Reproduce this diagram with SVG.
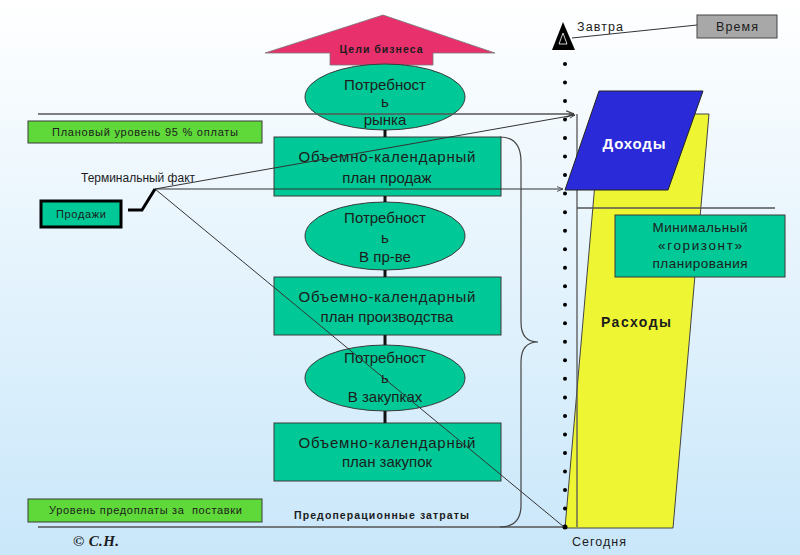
<svg xmlns="http://www.w3.org/2000/svg" width="800" height="555" viewBox="0 0 800 555">
<defs>
<linearGradient id="bg" x1="0" y1="0" x2="0" y2="1">
<stop offset="0" stop-color="#ffffff"/>
<stop offset="1" stop-color="#c9e7fa"/>
</linearGradient>
<marker id="ah" viewBox="0 0 10 10" refX="10" refY="5" markerWidth="6" markerHeight="6" orient="auto">
<path d="M0,1 L10,5 L0,9" fill="none" stroke="#444" stroke-width="1.5"/>
</marker>
<style>
text{font-family:"Liberation Sans",Arial,sans-serif;fill:#1c1c1c}
.big{font-size:15px}
.sm{font-size:11px}
.md{font-size:12.5px}
.gz{font-size:13.5px}
.teal{fill:#00c896;stroke:#3a3a3a;stroke-width:1}
.lime{fill:#5fd83a;stroke:#3a3a3a;stroke-width:1}
.thin{stroke:#333;stroke-width:1;fill:none}
.grey{stroke:#555;stroke-width:1.3;fill:none}
.stem{stroke:#111;stroke-width:3}
.dot{fill:#000}
</style>
</defs>
<rect width="800" height="555" fill="url(#bg)"/>

<!-- yellow expenses -->
<g id="rashody">
<polygon points="601,114 709,114 673,528 565,528" fill="#eef533" stroke="#444" stroke-width="1"/>
<text x="601" y="327" font-size="14" font-weight="bold" textLength="70" lengthAdjust="spacing">Расходы</text>
</g>

<!-- dotted time axis -->
<g id="axis">
<line class="grey" x1="577" y1="114" x2="577" y2="527"/>
<line class="grey" x1="577" y1="208" x2="775" y2="208"/>
<line class="grey" x1="38" y1="527" x2="567" y2="527"/>
<circle class="dot" cx="565" cy="64" r="2"/><circle class="dot" cx="565" cy="82.5" r="2"/><circle class="dot" cx="565" cy="101" r="2"/><circle class="dot" cx="565" cy="119.6" r="2"/><circle class="dot" cx="565" cy="138.1" r="2"/><circle class="dot" cx="565" cy="156.6" r="2"/><circle class="dot" cx="565" cy="175.1" r="2"/><circle class="dot" cx="565" cy="193.6" r="2"/><circle class="dot" cx="565" cy="212.2" r="2"/><circle class="dot" cx="565" cy="230.7" r="2"/><circle class="dot" cx="565" cy="249.2" r="2"/><circle class="dot" cx="565" cy="267.7" r="2"/><circle class="dot" cx="565" cy="286.2" r="2"/><circle class="dot" cx="565" cy="304.8" r="2"/><circle class="dot" cx="565" cy="323.3" r="2"/><circle class="dot" cx="565" cy="341.8" r="2"/><circle class="dot" cx="565" cy="360.3" r="2"/><circle class="dot" cx="565" cy="378.8" r="2"/><circle class="dot" cx="565" cy="397.4" r="2"/><circle class="dot" cx="565" cy="415.9" r="2"/><circle class="dot" cx="565" cy="434.4" r="2"/><circle class="dot" cx="565" cy="452.9" r="2"/><circle class="dot" cx="565" cy="471.4" r="2"/><circle class="dot" cx="565" cy="490" r="2"/><circle class="dot" cx="565" cy="508.5" r="2"/><circle class="dot" cx="565" cy="527" r="2.5"/>
<polygon points="563,22 575,50 552,50" fill="#000"/>
<polygon points="563,33 567,44 559,44" fill="none" stroke="#fff" stroke-width="0.8"/>
<text x="577" y="31" class="md" textLength="46" lengthAdjust="spacing">Завтра</text>
<text x="572" y="546" class="md" textLength="54" lengthAdjust="spacing">Сегодня</text>
</g>

<!-- Доходы -->
<g id="dohody">
<polygon points="599,91 703,91 668,190 565,190" fill="#2a2ad8" stroke="#222" stroke-width="1"/>
<text x="634" y="149" font-size="15" font-weight="bold" style="fill:#fff" text-anchor="middle" textLength="63" lengthAdjust="spacing">Доходы</text>
</g>

<g id="celi">
<polygon points="383,15 495,53 433,53 433,65 330,65 330,53 265,53" fill="#e8306c" stroke="#777" stroke-width="0.8"/>
<text x="381" y="53" font-size="10.5" font-weight="bold" text-anchor="middle" textLength="83" lengthAdjust="spacing">Цели бизнеса</text>
</g>

<g id="potr1">
<ellipse cx="385" cy="97" rx="80" ry="33" class="teal"/>
<text x="385" y="90" class="big" text-anchor="middle">Потребност</text>
<text x="385" y="107" class="big" text-anchor="middle">ь</text>
<text x="385" y="125" class="big" text-anchor="middle">рынка</text>
</g>

<g id="plan1">
<rect x="274" y="137" width="227" height="59" class="teal"/>
<text x="387" y="162" class="big" text-anchor="middle" textLength="177" lengthAdjust="spacing">Объемно-календарный</text>
<text x="387" y="183" class="big" text-anchor="middle">план продаж</text>
</g>

<g id="potr2">
<ellipse cx="385" cy="236" rx="80" ry="34" class="teal"/>
<text x="385" y="223" class="big" text-anchor="middle">Потребност</text>
<text x="385" y="243" class="big" text-anchor="middle">ь</text>
<text x="385" y="262" class="big" text-anchor="middle">В пр-ве</text>
</g>

<g id="plan2">
<rect x="274" y="277" width="227" height="58" class="teal"/>
<text x="387" y="302" class="big" text-anchor="middle" textLength="177" lengthAdjust="spacing">Объемно-календарный</text>
<text x="387" y="322" class="big" text-anchor="middle">план производства</text>
</g>

<g id="potr3">
<ellipse cx="385" cy="378" rx="80" ry="33" class="teal"/>
<text x="385" y="363" class="big" text-anchor="middle">Потребност</text>
<text x="385" y="383" class="big" text-anchor="middle">ь</text>
<text x="385" y="402" class="big" text-anchor="middle">В закупках</text>
</g>

<g id="plan3">
<rect x="274" y="423" width="227" height="58" class="teal"/>
<text x="387" y="448" class="big" text-anchor="middle" textLength="177" lengthAdjust="spacing">Объемно-календарный</text>
<text x="387" y="467" class="big" text-anchor="middle">план закупок</text>
</g>

<g id="plan95">
<rect x="28" y="121" width="234" height="22" class="lime"/>
<text x="52" y="136" class="sm" textLength="186" lengthAdjust="spacing">Плановый уровень 95 % оплаты</text>
</g>

<g id="terminal">
<text x="81" y="182" style="font-size:12px" textLength="114" lengthAdjust="spacing">Терминальный факт</text>
</g>

<g id="prodazhi">
<rect x="41" y="201" width="80" height="26" fill="#00c896" stroke="#000" stroke-width="3"/>
<text x="56" y="218" class="sm" textLength="50" lengthAdjust="spacing">Продажи</text>
</g>

<g id="predoplata">
<rect x="28" y="499" width="234" height="23" class="lime"/>
<text x="49" y="514" class="sm" xml:space="preserve" textLength="193" lengthAdjust="spacing">Уровень предоплаты за  поставки</text>
</g>

<g id="predoper">
<text x="294" y="519" font-size="10.5" font-weight="bold" textLength="175" lengthAdjust="spacing">Предоперационные затраты</text>
</g>

<g id="gorizont">
<rect x="615" y="215" width="170" height="62" class="teal"/>
<text x="700" y="232" class="gz" text-anchor="middle" textLength="95" lengthAdjust="spacing">Минимальный</text>
<text x="700" y="250" class="gz" text-anchor="middle" textLength="84" lengthAdjust="spacing">«горизонт»</text>
<text x="700" y="268" class="gz" text-anchor="middle" textLength="95" lengthAdjust="spacing">планирования</text>
</g>

<g id="vremya">
<rect x="697" y="15" width="80" height="23" fill="#a8a8a8" stroke="#444" stroke-width="1"/>
<text x="737" y="31" class="md" text-anchor="middle" textLength="42" lengthAdjust="spacing">Время</text>
</g>

<g id="copyright">
<text x="73" y="546" style="font-family:'Liberation Serif','Times New Roman',serif;font-size:15px;font-weight:bold;font-style:italic" textLength="46" lengthAdjust="spacing">© С.Н.</text>
</g>

<g id="connectors">
<line class="grey" x1="38" y1="114" x2="574" y2="114" marker-end="url(#ah)"/>
<line class="thin" x1="155" y1="189" x2="575" y2="115" marker-end="url(#ah)"/>
<line class="thin" x1="155" y1="189" x2="563" y2="189" marker-end="url(#ah)"/>
<line class="thin" x1="155" y1="189" x2="564" y2="527"/>
<line class="thin" x1="572" y1="38" x2="697" y2="25"/>
<path d="M128,210 L142,210 L155,189" style="fill:none;stroke:#000;stroke-width:3"/>
<line class="stem" x1="385" y1="130" x2="385" y2="137"/>
<line class="stem" x1="385" y1="196" x2="385" y2="202"/>
<line class="stem" x1="385" y1="270" x2="385" y2="277"/>
<line class="stem" x1="385" y1="335" x2="385" y2="345"/>
<line class="stem" x1="385" y1="411" x2="385" y2="423"/>
<path d="M500,137 Q521,137 521,162 L521,322 Q521,342 538,342 Q521,342 521,362 L521,505 Q521,527 500,527" fill="none" stroke="#444" stroke-width="1.2"/>
</g>
</svg>
